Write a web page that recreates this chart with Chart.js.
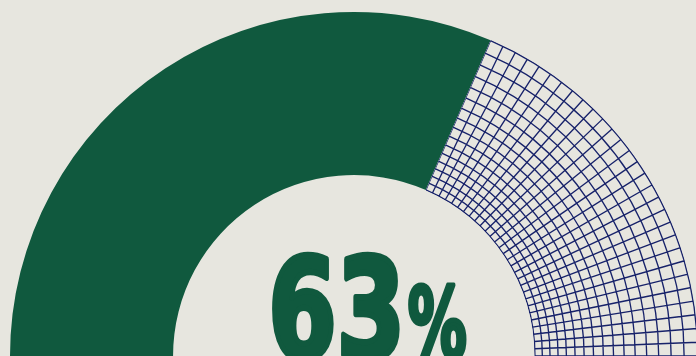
<!DOCTYPE html>
<html>
<head>
<meta charset="utf-8">
<script src="https://cdn.jsdelivr.net/npm/chart.js@4"></script>
<style>
  html, body { margin: 0; padding: 0; background: #e7e6df; overflow: hidden; }
  #wrap { position: relative; width: 708px; height: 356px; }
</style>
</head>
<body>
<div id="wrap"><canvas id="gauge"></canvas></div>
<script>
const labels = ['Done', 'Remaining'];
const values = [63, 37];
const centerLabel = '63';
const centerUnit = '%';

const GREEN = '#10593e';
const NAVY = '#17226a';
const BG = '#e7e6df';

// fine polar mesh over the unfilled part of the gauge
const polarGrid = {
  id: 'polarGrid',
  afterDatasetsDraw(chart) {
    const arc = chart.getDatasetMeta(0).data[1];
    if (!arc) return;
    const { x, y, startAngle, endAngle, innerRadius, outerRadius } =
      arc.getProps(['x', 'y', 'startAngle', 'endAngle', 'innerRadius', 'outerRadius'], true);
    const ctx = chart.ctx;
    const sectors = 29;
    const step = (endAngle - startAngle) / sectors;
    const q = Math.exp(step);

    ctx.save();
    ctx.beginPath();
    ctx.arc(x, y, outerRadius + 0.5, startAngle, endAngle);
    ctx.arc(x, y, innerRadius - 0.5, endAngle, startAngle, true);
    ctx.closePath();
    ctx.clip();

    ctx.strokeStyle = NAVY;
    ctx.lineWidth = 1.35;
    ctx.beginPath();
    for (let r = innerRadius; r <= outerRadius + 0.5; r *= q) {
      ctx.moveTo(x + r * Math.cos(startAngle), y + r * Math.sin(startAngle));
      ctx.arc(x, y, r, startAngle, endAngle);
    }
    for (let i = 0; i <= sectors; i++) {
      const a = endAngle - i * step;
      ctx.moveTo(x + innerRadius * Math.cos(a), y + innerRadius * Math.sin(a));
      ctx.lineTo(x + outerRadius * Math.cos(a), y + outerRadius * Math.sin(a));
    }
    ctx.stroke();
    ctx.restore();
  }
};

// squeeze a bold glyph run into a box (left/right ink edges, top of ink, baseline)
function fitText(ctx, text, left, right, top, base, stroke) {
  ctx.font = 'bold 100px "DejaVu Sans"';
  ctx.textAlign = 'left';
  ctx.textBaseline = 'alphabetic';
  const m = ctx.measureText(text);
  const inkW = m.actualBoundingBoxLeft + m.actualBoundingBoxRight;
  const inkH = m.actualBoundingBoxAscent;
  const sx = (right - left - stroke) / inkW;
  const sy = (base - top - stroke / 2) / inkH;
  ctx.save();
  ctx.translate(left + stroke / 2, base);
  ctx.scale(sx, sy);
  ctx.lineWidth = stroke / sx;
  ctx.fillText(text, m.actualBoundingBoxLeft, 0);
  ctx.strokeText(text, m.actualBoundingBoxLeft, 0);
  ctx.restore();
}

// big percentage sitting on the gauge centre
const centerText = {
  id: 'centerText',
  afterDraw(chart) {
    const arc = chart.getDatasetMeta(0).data[0];
    if (!arc) return;
    const ctx = chart.ctx;
    const cx = arc.x, cy = arc.y;
    ctx.save();
    ctx.fillStyle = GREEN;
    ctx.strokeStyle = GREEN;
    ctx.lineJoin = 'round';
    fitText(ctx, centerLabel, cx - 82, cx + 46, cy - 104, cy + 2, 4.5);
    fitText(ctx, centerUnit, cx + 54, cx + 113, cy - 73, cy + 2, 3);
    ctx.restore();
  }
};

new Chart(document.getElementById('gauge'), {
  type: 'doughnut',
  data: {
    labels: labels,
    datasets: [{
      data: values,
      backgroundColor: [GREEN, BG],
      borderWidth: 0,
      hoverOffset: 0
    }]
  },
  options: {
    responsive: true,
    maintainAspectRatio: false,
    animation: false,
    rotation: -90,
    circumference: 180,
    cutout: '52.6%',
    layout: { padding: { left: 10, right: 10, top: 12, bottom: 0 } },
    plugins: {
      legend: { display: false },
      tooltip: { enabled: false }
    }
  },
  plugins: [polarGrid, centerText]
});
</script>
</body>
</html>
